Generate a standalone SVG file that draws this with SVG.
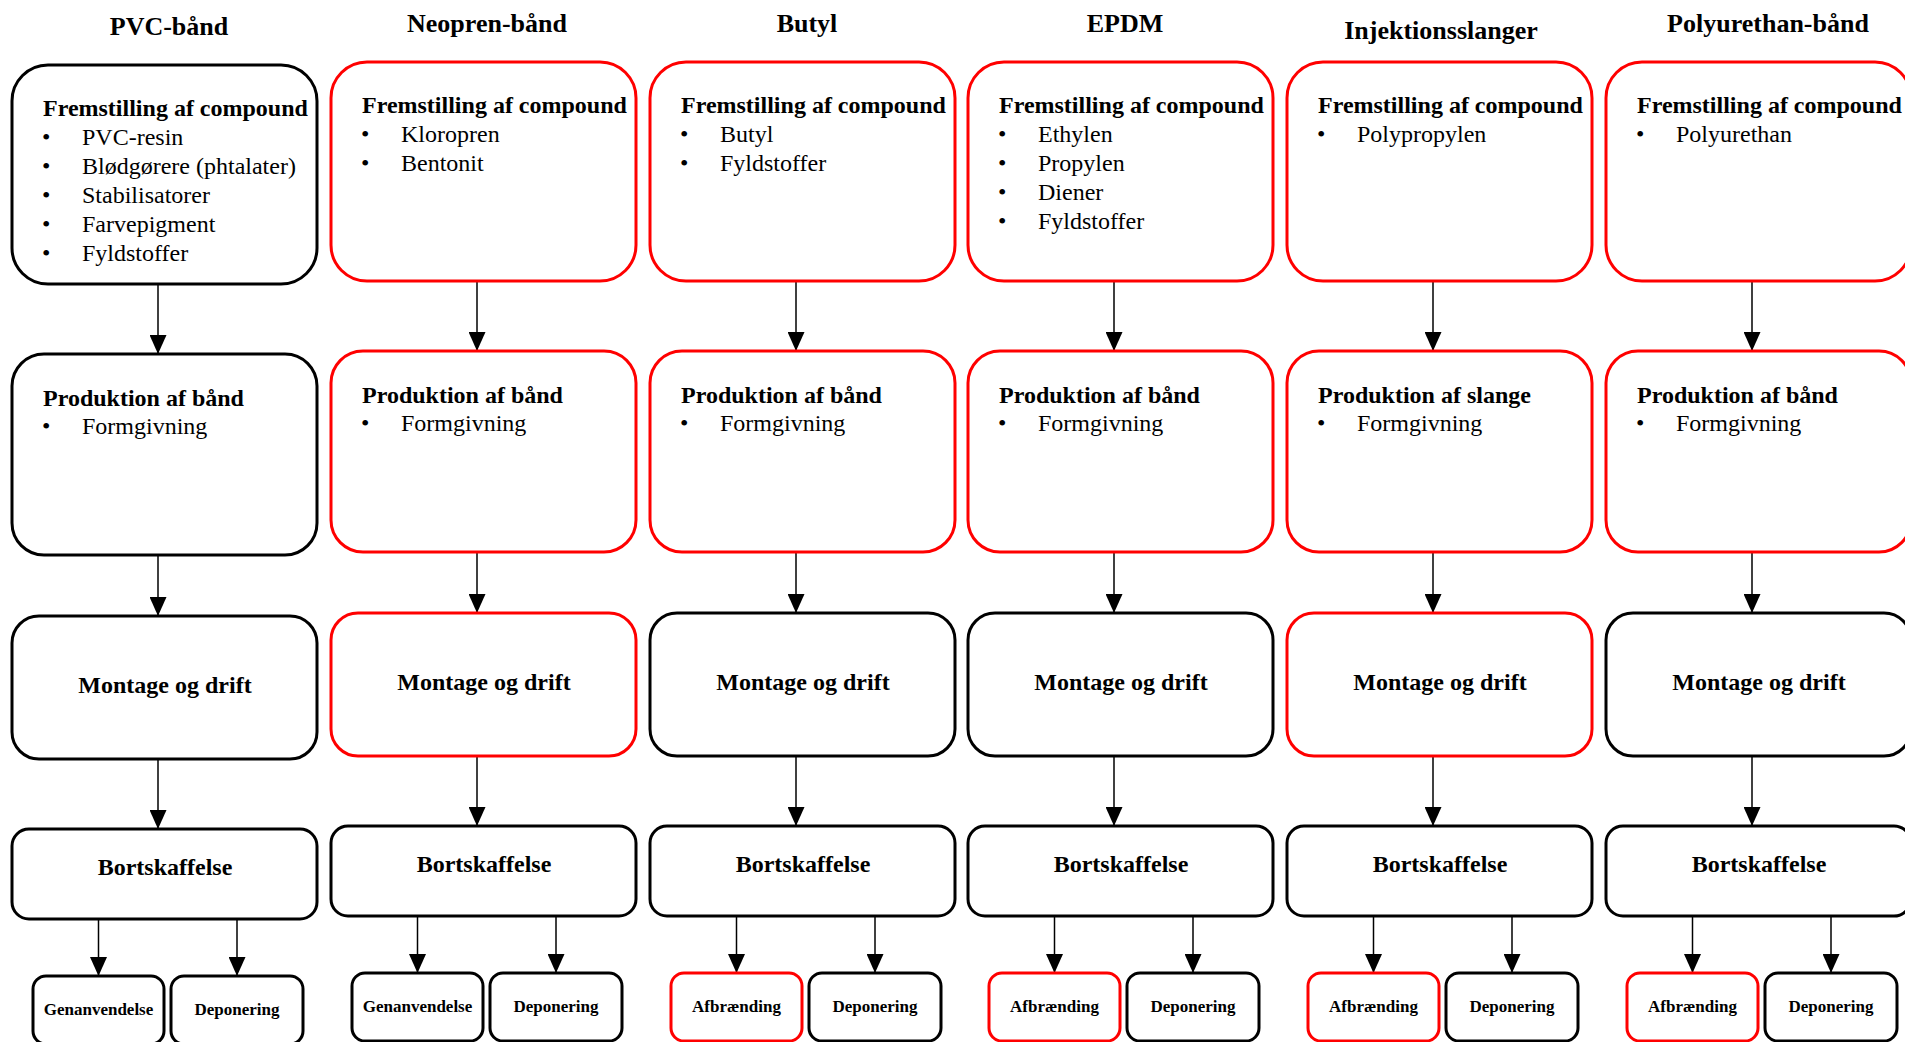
<svg xmlns="http://www.w3.org/2000/svg" width="1905" height="1042" viewBox="0 0 1905 1042">
<style>
.b{fill:#fff;stroke:#000;stroke-width:3}
.r{fill:#fff;stroke:#f00;stroke-width:3}
text{font-family:"Liberation Serif","Times New Roman",serif;fill:#000}
.t{font-size:24px;font-weight:bold}
.i{font-size:24px}
.c{font-size:24px;font-weight:bold;text-anchor:middle}
.h{font-size:26px;font-weight:bold;text-anchor:middle}
.s{font-size:17px;font-weight:bold;text-anchor:middle}
.conn line{stroke:#000;stroke-width:1.5;marker-end:url(#ah)}
</style>
<defs>
<marker id="ah" viewBox="0 0 19 17" refX="19" refY="8.5" markerWidth="19" markerHeight="17" markerUnits="userSpaceOnUse" orient="auto">
<path d="M0,0 L19,8.5 L0,17 Z" fill="#000"/>
</marker>
</defs>
<rect width="1905" height="1042" fill="#fff"/>

<g id="titles">
<text class="h" x="169" y="35">PVC-bånd</text>
<text class="h" x="487" y="32">Neopren-bånd</text>
<text class="h" x="807" y="32">Butyl</text>
<text class="h" x="1125" y="32">EPDM</text>
<text class="h" x="1441" y="39">Injektionsslanger</text>
<text class="h" x="1768" y="32">Polyurethan-bånd</text>
</g>

<g id="connectors" class="conn">
<g transform="translate(12,3)">
<line x1="146" y1="277" x2="146" y2="351"/><line x1="146" y1="548" x2="146" y2="613"/><line x1="146" y1="752" x2="146" y2="826"/><line x1="86.5" y1="912" x2="86.5" y2="973"/><line x1="225" y1="912" x2="225" y2="973"/>
</g>
<g transform="translate(331,0)">
<line x1="146" y1="277" x2="146" y2="351"/><line x1="146" y1="548" x2="146" y2="613"/><line x1="146" y1="752" x2="146" y2="826"/><line x1="86.5" y1="912" x2="86.5" y2="973"/><line x1="225" y1="912" x2="225" y2="973"/>
</g>
<g transform="translate(650,0)">
<line x1="146" y1="277" x2="146" y2="351"/><line x1="146" y1="548" x2="146" y2="613"/><line x1="146" y1="752" x2="146" y2="826"/><line x1="86.5" y1="912" x2="86.5" y2="973"/><line x1="225" y1="912" x2="225" y2="973"/>
</g>
<g transform="translate(968,0)">
<line x1="146" y1="277" x2="146" y2="351"/><line x1="146" y1="548" x2="146" y2="613"/><line x1="146" y1="752" x2="146" y2="826"/><line x1="86.5" y1="912" x2="86.5" y2="973"/><line x1="225" y1="912" x2="225" y2="973"/>
</g>
<g transform="translate(1287,0)">
<line x1="146" y1="277" x2="146" y2="351"/><line x1="146" y1="548" x2="146" y2="613"/><line x1="146" y1="752" x2="146" y2="826"/><line x1="86.5" y1="912" x2="86.5" y2="973"/><line x1="225" y1="912" x2="225" y2="973"/>
</g>
<g transform="translate(1606,0)">
<line x1="146" y1="277" x2="146" y2="351"/><line x1="146" y1="548" x2="146" y2="613"/><line x1="146" y1="752" x2="146" y2="826"/><line x1="86.5" y1="912" x2="86.5" y2="973"/><line x1="225" y1="912" x2="225" y2="973"/>
</g>
</g>

<!-- Column 1: PVC -->
<g id="col-pvc" transform="translate(12,3)">
<g id="pvc-compound"><rect class="b" x="0" y="62" width="305" height="219" rx="36"/>
<text class="t" x="31" y="113">Fremstilling af compound</text>
<text class="i" x="30" y="142">•</text><text class="i" x="70" y="142">PVC-resin</text>
<text class="i" x="30" y="171">•</text><text class="i" x="70" y="171">Blødgørere (phtalater)</text>
<text class="i" x="30" y="200">•</text><text class="i" x="70" y="200">Stabilisatorer</text>
<text class="i" x="30" y="229">•</text><text class="i" x="70" y="229">Farvepigment</text>
<text class="i" x="30" y="258">•</text><text class="i" x="70" y="258">Fyldstoffer</text></g>
<g id="pvc-produktion"><rect class="b" x="0" y="351" width="305" height="201" rx="32"/>
<text class="t" x="31" y="403">Produktion af bånd</text>
<text class="i" x="30" y="431">•</text><text class="i" x="70" y="431">Formgivning</text></g>
<g id="pvc-montage"><rect class="b" x="0" y="613" width="305" height="143" rx="27"/>
<text class="c" x="153" y="690">Montage og drift</text></g>
<g id="pvc-bortskaffelse"><rect class="b" x="0" y="826" width="305" height="90" rx="17"/>
<text class="c" x="153" y="872">Bortskaffelse</text></g>
<g id="pvc-genanvendelse"><rect class="b" x="21" y="973" width="131" height="68" rx="13"/>
<text class="s" x="86.5" y="1012">Genanvendelse</text></g>
<g id="pvc-deponering"><rect class="b" x="159" y="973" width="132" height="68" rx="13"/>
<text class="s" x="225" y="1012">Deponering</text></g>
</g>

<!-- Column 2: Neopren -->
<g id="col-neopren" transform="translate(331,0)">
<g id="neo-compound"><rect class="r" x="0" y="62" width="305" height="219" rx="36"/>
<text class="t" x="31" y="113">Fremstilling af compound</text>
<text class="i" x="30" y="142">•</text><text class="i" x="70" y="142">Kloropren</text>
<text class="i" x="30" y="171">•</text><text class="i" x="70" y="171">Bentonit</text></g>
<g id="neo-produktion"><rect class="r" x="0" y="351" width="305" height="201" rx="32"/>
<text class="t" x="31" y="403">Produktion af bånd</text>
<text class="i" x="30" y="431">•</text><text class="i" x="70" y="431">Formgivning</text></g>
<g id="neo-montage"><rect class="r" x="0" y="613" width="305" height="143" rx="27"/>
<text class="c" x="153" y="690">Montage og drift</text></g>
<g id="neo-bortskaffelse"><rect class="b" x="0" y="826" width="305" height="90" rx="17"/>
<text class="c" x="153" y="872">Bortskaffelse</text></g>
<g id="neo-genanvendelse"><rect class="b" x="21" y="973" width="131" height="68" rx="13"/>
<text class="s" x="86.5" y="1012">Genanvendelse</text></g>
<g id="neo-deponering"><rect class="b" x="159" y="973" width="132" height="68" rx="13"/>
<text class="s" x="225" y="1012">Deponering</text></g>
</g>

<!-- Column 3: Butyl -->
<g id="col-butyl" transform="translate(650,0)">
<g id="butyl-compound"><rect class="r" x="0" y="62" width="305" height="219" rx="36"/>
<text class="t" x="31" y="113">Fremstilling af compound</text>
<text class="i" x="30" y="142">•</text><text class="i" x="70" y="142">Butyl</text>
<text class="i" x="30" y="171">•</text><text class="i" x="70" y="171">Fyldstoffer</text></g>
<g id="butyl-produktion"><rect class="r" x="0" y="351" width="305" height="201" rx="32"/>
<text class="t" x="31" y="403">Produktion af bånd</text>
<text class="i" x="30" y="431">•</text><text class="i" x="70" y="431">Formgivning</text></g>
<g id="butyl-montage"><rect class="b" x="0" y="613" width="305" height="143" rx="27"/>
<text class="c" x="153" y="690">Montage og drift</text></g>
<g id="butyl-bortskaffelse"><rect class="b" x="0" y="826" width="305" height="90" rx="17"/>
<text class="c" x="153" y="872">Bortskaffelse</text></g>
<g id="butyl-afbraending"><rect class="r" x="21" y="973" width="131" height="68" rx="13"/>
<text class="s" x="86.5" y="1012">Afbrænding</text></g>
<g id="butyl-deponering"><rect class="b" x="159" y="973" width="132" height="68" rx="13"/>
<text class="s" x="225" y="1012">Deponering</text></g>
</g>

<!-- Column 4: EPDM -->
<g id="col-epdm" transform="translate(968,0)">
<g id="epdm-compound"><rect class="r" x="0" y="62" width="305" height="219" rx="36"/>
<text class="t" x="31" y="113">Fremstilling af compound</text>
<text class="i" x="30" y="142">•</text><text class="i" x="70" y="142">Ethylen</text>
<text class="i" x="30" y="171">•</text><text class="i" x="70" y="171">Propylen</text>
<text class="i" x="30" y="200">•</text><text class="i" x="70" y="200">Diener</text>
<text class="i" x="30" y="229">•</text><text class="i" x="70" y="229">Fyldstoffer</text></g>
<g id="epdm-produktion"><rect class="r" x="0" y="351" width="305" height="201" rx="32"/>
<text class="t" x="31" y="403">Produktion af bånd</text>
<text class="i" x="30" y="431">•</text><text class="i" x="70" y="431">Formgivning</text></g>
<g id="epdm-montage"><rect class="b" x="0" y="613" width="305" height="143" rx="27"/>
<text class="c" x="153" y="690">Montage og drift</text></g>
<g id="epdm-bortskaffelse"><rect class="b" x="0" y="826" width="305" height="90" rx="17"/>
<text class="c" x="153" y="872">Bortskaffelse</text></g>
<g id="epdm-afbraending"><rect class="r" x="21" y="973" width="131" height="68" rx="13"/>
<text class="s" x="86.5" y="1012">Afbrænding</text></g>
<g id="epdm-deponering"><rect class="b" x="159" y="973" width="132" height="68" rx="13"/>
<text class="s" x="225" y="1012">Deponering</text></g>
</g>

<!-- Column 5: Injektionsslanger -->
<g id="col-injektion" transform="translate(1287,0)">
<g id="inj-compound"><rect class="r" x="0" y="62" width="305" height="219" rx="36"/>
<text class="t" x="31" y="113">Fremstilling af compound</text>
<text class="i" x="30" y="142">•</text><text class="i" x="70" y="142">Polypropylen</text></g>
<g id="inj-produktion"><rect class="r" x="0" y="351" width="305" height="201" rx="32"/>
<text class="t" x="31" y="403">Produktion af slange</text>
<text class="i" x="30" y="431">•</text><text class="i" x="70" y="431">Formgivning</text></g>
<g id="inj-montage"><rect class="r" x="0" y="613" width="305" height="143" rx="27"/>
<text class="c" x="153" y="690">Montage og drift</text></g>
<g id="inj-bortskaffelse"><rect class="b" x="0" y="826" width="305" height="90" rx="17"/>
<text class="c" x="153" y="872">Bortskaffelse</text></g>
<g id="inj-afbraending"><rect class="r" x="21" y="973" width="131" height="68" rx="13"/>
<text class="s" x="86.5" y="1012">Afbrænding</text></g>
<g id="inj-deponering"><rect class="b" x="159" y="973" width="132" height="68" rx="13"/>
<text class="s" x="225" y="1012">Deponering</text></g>
</g>

<!-- Column 6: Polyurethan -->
<g id="col-polyurethan" transform="translate(1606,0)">
<g id="pu-compound"><rect class="r" x="0" y="62" width="305" height="219" rx="36"/>
<text class="t" x="31" y="113">Fremstilling af compound</text>
<text class="i" x="30" y="142">•</text><text class="i" x="70" y="142">Polyurethan</text></g>
<g id="pu-produktion"><rect class="r" x="0" y="351" width="305" height="201" rx="32"/>
<text class="t" x="31" y="403">Produktion af bånd</text>
<text class="i" x="30" y="431">•</text><text class="i" x="70" y="431">Formgivning</text></g>
<g id="pu-montage"><rect class="b" x="0" y="613" width="305" height="143" rx="27"/>
<text class="c" x="153" y="690">Montage og drift</text></g>
<g id="pu-bortskaffelse"><rect class="b" x="0" y="826" width="305" height="90" rx="17"/>
<text class="c" x="153" y="872">Bortskaffelse</text></g>
<g id="pu-afbraending"><rect class="r" x="21" y="973" width="131" height="68" rx="13"/>
<text class="s" x="86.5" y="1012">Afbrænding</text></g>
<g id="pu-deponering"><rect class="b" x="159" y="973" width="132" height="68" rx="13"/>
<text class="s" x="225" y="1012">Deponering</text></g>
</g>
</svg>
